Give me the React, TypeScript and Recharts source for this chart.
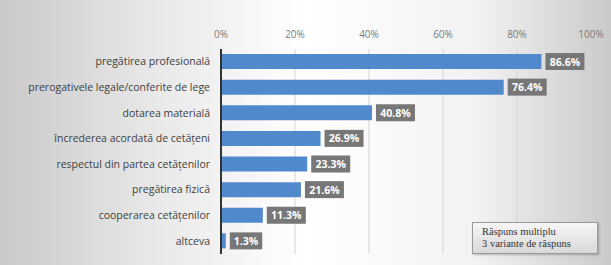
import React from 'react';
import { BarChart, Bar, XAxis, YAxis, CartesianGrid, LabelList } from 'recharts';

const categories = [
  'pregătirea profesională',
  'prerogativele legale/conferite de lege',
  'dotarea materială',
  'încrederea acordată de cetățeni',
  'respectul din partea cetățenilor',
  'pregătirea fizică',
  'cooperarea cetățenilor',
  'altceva',
];
const values = [0.866, 0.764, 0.408, 0.269, 0.233, 0.216, 0.113, 0.013];
const ticks = [0, 0.2, 0.4, 0.6, 0.8, 1];

const data = categories.map((name, i) => ({ name, value: values[i] }));

const pct = (v: number) => `${Math.round(v * 100)}%`;

// grey box with the value, drawn right of each bar
const ValueLabel = (props: any) => {
  const { x, y, width, height, value } = props;
  const text = `${(value * 100).toFixed(1)}%`;
  const bw = text.length * 6.6 + 6;
  const bx = x + width + 4;
  const by = y + height / 2 - 8.5;
  return (
    <g>
      <rect x={bx} y={by} width={bw} height={17} fill="#777777" />
      <text
        x={bx + bw / 2}
        y={by + 12.5}
        textAnchor="middle"
        fill="#ffffff"
        fontSize={10.5}
        fontWeight="bold"
        fontFamily="'Open Sans', sans-serif"
      >
        {text}
      </text>
    </g>
  );
};

// category label on one line, no wrapping
const CategoryTick = (props: any) => {
  const { x, y, payload } = props;
  return (
    <text
      x={x}
      y={y}
      dy={3.5}
      textAnchor="end"
      fill="#404040"
      fontSize={10.5}
      fontFamily="'Open Sans', sans-serif"
    >
      {payload.value}
    </text>
  );
};

export default function App() {
  return (
    <div
      style={{
        position: 'absolute',
        left: 0,
        top: 0,
        width: 611,
        height: 265,
        background:
          'linear-gradient(to right, #c9c9c9 0%, #e8e8e8 25%, #ffffff 50%, #f2f2f2 78%, #cacaca 100%)',
        overflow: 'hidden',
      }}
    >
      <BarChart
        width={611}
        height={265}
        data={data}
        layout="vertical"
        margin={{ top: 20, right: 20, bottom: 11, left: 0 }}
        barCategoryGap={5}
      >
        <CartesianGrid horizontal={false} stroke="#d4d4d4" />
        <XAxis
          type="number"
          orientation="top"
          domain={[0, 1]}
          ticks={ticks}
          tickFormatter={pct}
          axisLine={false}
          tickLine={false}
          tickSize={0}
          tickMargin={11}
          height={29}
          tick={{ fill: '#7a7a7a', fontSize: 10, fontFamily: "'Open Sans', sans-serif" }}
        />
        <YAxis
          type="category"
          dataKey="name"
          width={221}
          axisLine={{ stroke: '#333333', strokeWidth: 2 }}
          tickLine={false}
          tickSize={0}
          tickMargin={11}
          interval={0}
          tick={<CategoryTick />}
        />
        <Bar dataKey="value" fill="#5089cc" barSize={15} isAnimationActive={false}>
          <LabelList dataKey="value" content={<ValueLabel />} />
        </Bar>
      </BarChart>
      <div
        style={{
          position: 'absolute',
          left: 472,
          top: 222,
          width: 126,
          height: 32,
          boxSizing: 'border-box',
          border: '1px solid #9a9a9a',
          background: 'linear-gradient(to bottom, #f6f6f6, #d8d8d8)',
          boxShadow: '1px 1px 2px rgba(0,0,0,0.25)',
          fontFamily: "'Liberation Serif', serif",
          fontSize: 10.5,
          lineHeight: '12px',
          color: '#333333',
          padding: '3px 0 0 9px',
        }}
      >
        <div>Răspuns multiplu</div>
        <div>3 variante de răspuns</div>
      </div>
    </div>
  );
}
